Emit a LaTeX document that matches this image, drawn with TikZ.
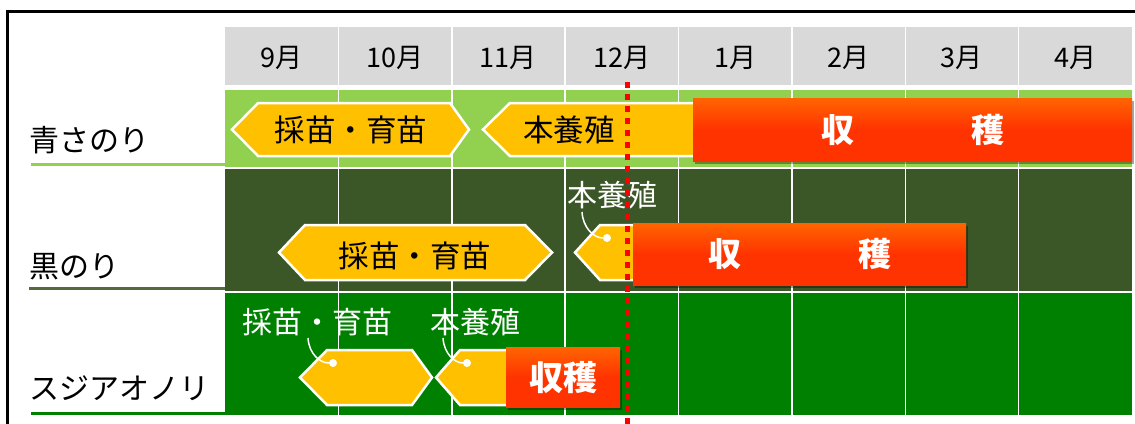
\documentclass[tikz,border=0pt]{standalone}
\usepackage{fontspec}
\setmainfont{Noto Sans CJK JP}
\usetikzlibrary{shadows}
\definecolor{hdr}{HTML}{D9D9D9}
\definecolor{lg}{HTML}{92D050}
\definecolor{dg}{HTML}{3B5727}
\definecolor{dgline}{HTML}{556B3F}
\definecolor{gg}{HTML}{008000}
\definecolor{yel}{HTML}{FFC000}
\definecolor{ortop}{HTML}{FF6400}
\definecolor{orbot}{HTML}{FF3300}
\definecolor{mred}{HTML}{FF0000}
\tikzset{
  hexbox/.style={fill=yel, draw=white, line width=2.5pt, line join=miter},
  harvest/.style={top color=ortop, bottom color=orbot, middle color=orbot,
    draw=none, inner sep=0pt, text=white,
    drop shadow={shadow xshift=2pt, shadow yshift=-2.5pt, opacity=0.35, fill=black},
    font=\bfseries\fontsize{33}{33}\selectfont},
  monthtxt/.style={inner sep=0pt, font=\fontsize{27}{27}\selectfont},
  rowlbl/.style={inner sep=0pt, anchor=west, font=\fontsize{30}{30}\selectfont},
  hextxt/.style={inner sep=0pt, font=\fontsize{30.5}{30.5}\selectfont},
  taglbl/.style={inner sep=0pt, text=white, font=\fontsize{30}{30}\selectfont},
  hole/.style={circle, fill=white, minimum size=8pt, inner sep=0pt},
  tagstring/.style={draw=white, line width=1.5pt},
  gridline/.style={draw=white, line width=1.5pt},
  uline/.style={line width=3pt},
  dotline/.style={draw=mred, line width=5pt, dash pattern=on 6pt off 6pt}
}
\newcommand\hexshape[7]{% left tip, left corner, right corner, right tip, top, bottom, name
  \path[hexbox] (#1,{(#5+#6)/2}) -- (#2,#5) -- (#3,#5) -- (#4,{(#5+#6)/2}) -- (#3,#6) -- (#2,#6) -- cycle;
  \coordinate (#7) at ({(#1+#4)/2},{(#5+#6)/2});
}
\begin{document}
\begin{tikzpicture}[x=1pt,y=-1pt]
\useasboundingbox (0,0) rectangle (1135,423);
\fill[white] (0,0) rectangle (1135,423);
% frame
\draw[line width=2.5pt] (1140,11.5) -- (7.5,11.5) -- (7.5,430);
% bands
\fill[hdr] (225,27) rectangle (1132,85);
\fill[lg] (225,90) rectangle (1132,167);
\fill[dg] (225,169) rectangle (1132,291);
\fill[gg] (225,293) rectangle (1132,415);
% grid
\foreach \i in {1,...,7} {
  \draw[gridline] ({225+113.375*\i},27) -- ({225+113.375*\i},415);
}
% months
\foreach \m [count=\i from 0] in {9月,10月,11月,12月,1月,2月,3月,4月} {
  \node[monthtxt] (m\i) at ({225+113.375*(\i+0.5)},58) {\m};
}
% row labels
\node[rowlbl] (r1) at (29,140) {青さのり};
\node[rowlbl] (r2) at (29,267) {黒のり};
\node[rowlbl] (r3) at (29,388) {スジアオノリ};
\draw[uline, draw=lg] (31,164) -- (225,164);
\draw[uline, draw=dgline] (29,288.5) -- (225,288.5);
\draw[uline, draw=gg] (31,413) -- (225,413);

% row 1
\hexshape{232}{258}{450}{469}{103}{156}{a1}
\node[hextxt] (a1t) at (351,130) {採苗・育苗};
\hexshape{483}{510}{700}{720}{103}{156}{a2}
\node[hextxt] (a2t) at (569,130) {本養殖};
\node[harvest, anchor=north west, minimum width=439pt, minimum height=63pt] (h1) at (693,98) {収\hspace{117pt}穫};

% row 2
\hexshape{279}{305}{525}{552}{225}{280}{b1}
\node[hextxt] (b1t) at (415,256) {採苗・育苗};
\hexshape{575}{600}{640}{660}{225}{280}{b2}
\node[hole] (bh) at (607,238) {};
\node[taglbl] (b2t) at (612,195) {本養殖};
\coordinate (bs) at (582,212);
\draw[tagstring] (bs) .. controls (583,228) and (594,238) .. (bh);
\node[harvest, anchor=north west, minimum width=333pt, minimum height=62pt] (h2) at (633,223) {収\hspace{117pt}穫};

% row 3
\hexshape{300}{327}{412}{432}{350}{405}{c1}
\node[hole] (ch1) at (333,363) {};
\node[taglbl] (c1t) at (317,322) {採苗・育苗};
\coordinate (cs1) at (308,338);
\draw[tagstring] (cs1) .. controls (309,354) and (320,363) .. (ch1);
\hexshape{436}{460}{520}{540}{350}{405}{c2}
\node[hole] (ch2) at (467,363) {};
\node[taglbl] (c2t) at (475,322) {本養殖};
\coordinate (cs2) at (443,338);
\draw[tagstring] (cs2) .. controls (444,354) and (455,363) .. (ch2);
\node[harvest, anchor=north west, minimum width=114pt, minimum height=60pt, font=\bfseries\fontsize{34}{34}\selectfont] (h3) at (506,347) {収穫};

% red dotted line
\coordinate (dtop) at (627,82);
\coordinate (dbot) at (627,425);
\draw[dotline] (dtop) -- (dbot);
\end{tikzpicture}
\end{document}
